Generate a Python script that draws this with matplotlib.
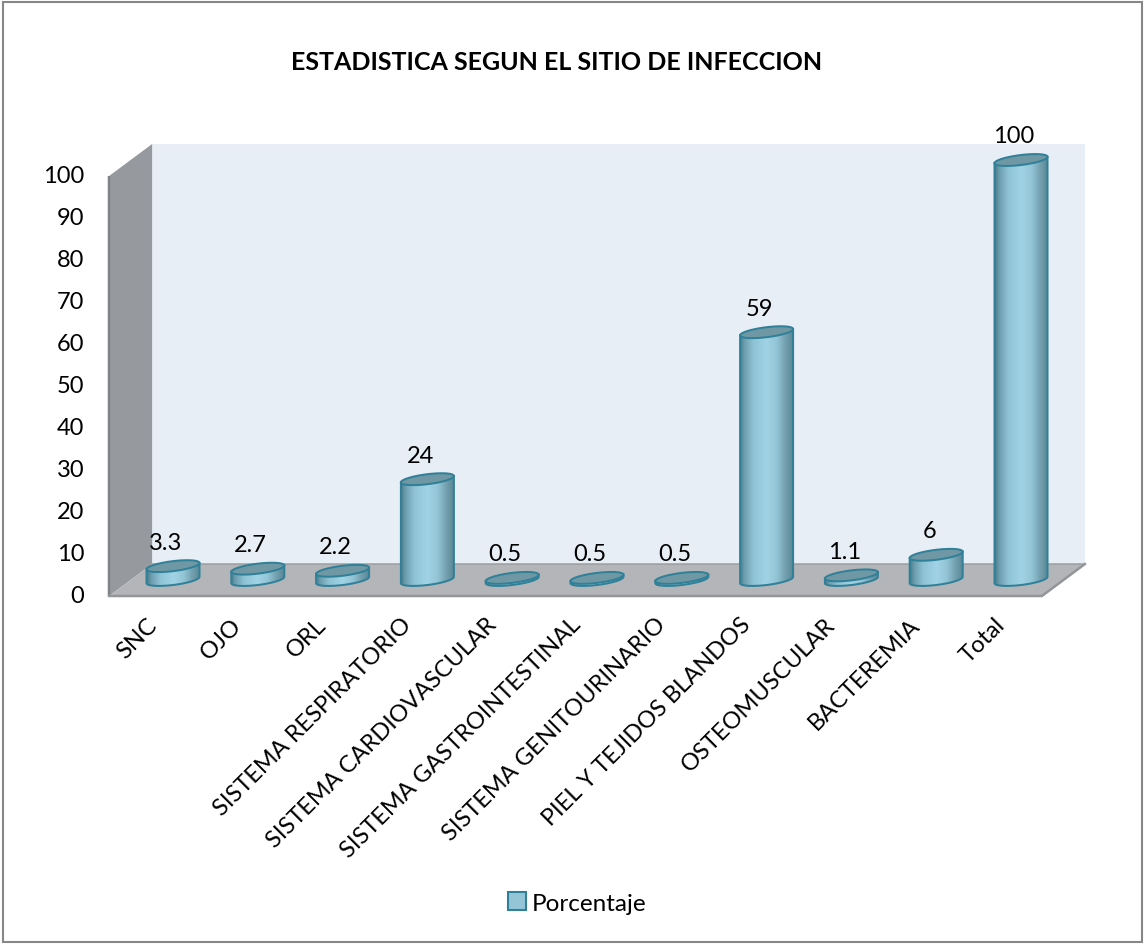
import numpy as np
import matplotlib.pyplot as plt
from matplotlib.patches import Polygon, PathPatch, Patch, Rectangle
from matplotlib.path import Path
from matplotlib.colors import LinearSegmentedColormap

categorias = ["SNC", "OJO", "ORL", "SISTEMA RESPIRATORIO", "SISTEMA CARDIOVASCULAR",
              "SISTEMA GASTROINTESTINAL", "SISTEMA GENITOURINARIO",
              "PIEL Y TEJIDOS BLANDOS", "OSTEOMUSCULAR", "BACTEREMIA", "Total"]
porcentaje = [3.3, 2.7, 2.2, 24, 0.5, 0.5, 0.5, 59, 1.1, 6, 100]
ticks_y = list(range(0, 101, 10))
serie = "Porcentaje"
titulo = "ESTADISTICA SEGUN EL SITIO DE INFECCION"

W, H, DPI = 1144, 945, 100
# pixel layout of the 3-D box (mid depth plane)
PX_X0 = 173.0      # centre of the first category
PX_STEP = 84.8     # pixels per category
PX_Y0 = 581.0      # value 0
PX_UNIT = 4.2      # pixels per percentage point
DEPTH_X, DEPTH_Y = 21.5, 16.0   # half depth of the box

EDGE = "#2F8098"
cil_cmap = LinearSegmentedColormap.from_list("cil", [
    (0.0, "#4A7C8C"), (0.08, "#6C9DAD"), (0.25, "#8EC3D5"), (0.5, "#A0D3E5"),
    (0.7, "#92C4D5"), (0.86, "#739FAE"), (1.0, "#5A8796")])

plt.rcParams['font.family'] = ['Lato', 'DejaVu Sans']
FS = 17

fig = plt.figure(figsize=(W / DPI, H / DPI), dpi=DPI)
ax = fig.add_axes([0, 0, 1, 1])
ax.axis('off')

pt = 72.0 / DPI          # points per pixel
dx = DEPTH_X / PX_STEP
dv = DEPTH_Y / PX_UNIT
n = len(categorias)
x0, x1 = -0.5, n - 0.5
top = max(ticks_y)

# walls and floor
ax.add_patch(Polygon([(x0 + dx, dv), (x1 + dx, dv), (x1 + dx, top + dv), (x0 + dx, top + dv)],
                     closed=True, fc="#E7EEF6", ec="none", zorder=1))
ax.add_patch(Polygon([(x0 - dx, -dv), (x0 + dx, dv), (x0 + dx, top + dv), (x0 - dx, top - dv)],
                     closed=True, fc="#96999D", ec="none", zorder=1))
ax.plot([x0 - dx, x0 - dx], [-dv, top - dv], color="#7F8286", lw=2.5 * pt, zorder=2,
        solid_capstyle="butt")
ax.add_patch(Polygon([(x0 - dx, -dv), (x1 - dx, -dv), (x1 + dx, dv), (x0 + dx, dv)],
                     closed=True, fc="#B3B5B8", ec="none", zorder=1))
ax.plot([x0 + dx, x1 + dx], [dv, dv], color="#9B9DA0", lw=1.5 * pt, zorder=2)
ax.plot([x0 - dx, x1 - dx, x1 + dx], [-dv, -dv, dv], color="#939598", lw=2.5 * pt, zorder=2)

# cylinders
A = 26.5 / PX_STEP
B = 5.0 / PX_UNIT
SHEAR = 0.12 * PX_STEP / PX_UNIT
grad = np.linspace(0, 1, 256).reshape(1, -1)


def elipse(cx, cy, t):
    return cx + A * np.cos(t), cy + B * np.sin(t) + SHEAR * A * np.cos(t)


for i, v in enumerate(porcentaje):
    bx, by = elipse(i, 0, np.linspace(np.pi, 2 * np.pi, 60))
    tx, ty = elipse(i, v, np.linspace(0, np.pi, 60))
    verts = np.column_stack([np.r_[bx, tx], np.r_[by, ty]])
    cuerpo = PathPatch(Path(np.vstack([verts, verts[:1]]), closed=True),
                       fc="none", ec="none", transform=ax.transData)
    ax.add_patch(cuerpo)
    img = ax.imshow(grad, cmap=cil_cmap, aspect="auto", interpolation="bilinear",
                    extent=(i - A, i + A, -B - SHEAR * A, v + B + SHEAR * A), zorder=3)
    img.set_clip_path(cuerpo)
    lx, ly = elipse(i, 0, np.array([np.pi]))
    rx, ry = elipse(i, 0, np.array([0.0]))
    ax.plot(np.r_[lx, bx, rx], np.r_[ly + v, by, ry + v], color=EDGE, lw=2 * pt, zorder=4)
    cx_, cy_ = elipse(i, v, np.linspace(0, 2 * np.pi, 121))
    ax.add_patch(Polygon(np.column_stack([cx_, cy_]), closed=True, fc="#7098A4", ec=EDGE,
                         lw=2 * pt, zorder=5))
    ax.annotate(f"{v:g}", xy=(i, v), xytext=(-7 * pt, 24 * pt), textcoords="offset points",
                ha="center", va="center", fontsize=FS, zorder=6)
    ax.annotate(categorias[i], xy=(i - dx, -dv), xytext=(2 * pt, -25 * pt),
                textcoords="offset points", rotation=45, rotation_mode="anchor",
                ha="right", va="center", fontsize=FS)

# value axis labels on the front edge of the left wall
for tv in ticks_y:
    ax.text(x0 - dx - 25 / PX_STEP, tv - dv, str(tv), ha="right", va="center", fontsize=FS)

ax.set_xlim(-PX_X0 / PX_STEP, (W - PX_X0) / PX_STEP)
ax.set_ylim((PX_Y0 - H) / PX_UNIT, PX_Y0 / PX_UNIT)

ax.legend(handles=[Patch(fc="#93C5D7", ec=EDGE, lw=1.5, label=serie)], loc="center",
          bbox_to_anchor=(577 / W, 1 - 904 / H), bbox_transform=fig.transFigure,
          frameon=False, fontsize=17.5, handlelength=0.75, handleheight=0.75,
          handletextpad=0.25)

fig.text(557 / W, 1 - 62 / H, titulo, ha="center", va="center", fontsize=18, fontweight="bold")
fig.add_artist(Rectangle((2.5 / W, 2.5 / H), 1 - 5 / W, 1 - 5 / H, transform=fig.transFigure,
                         fill=False, ec="#878787", lw=1.5))

fig.savefig("out.png", dpi=DPI)
